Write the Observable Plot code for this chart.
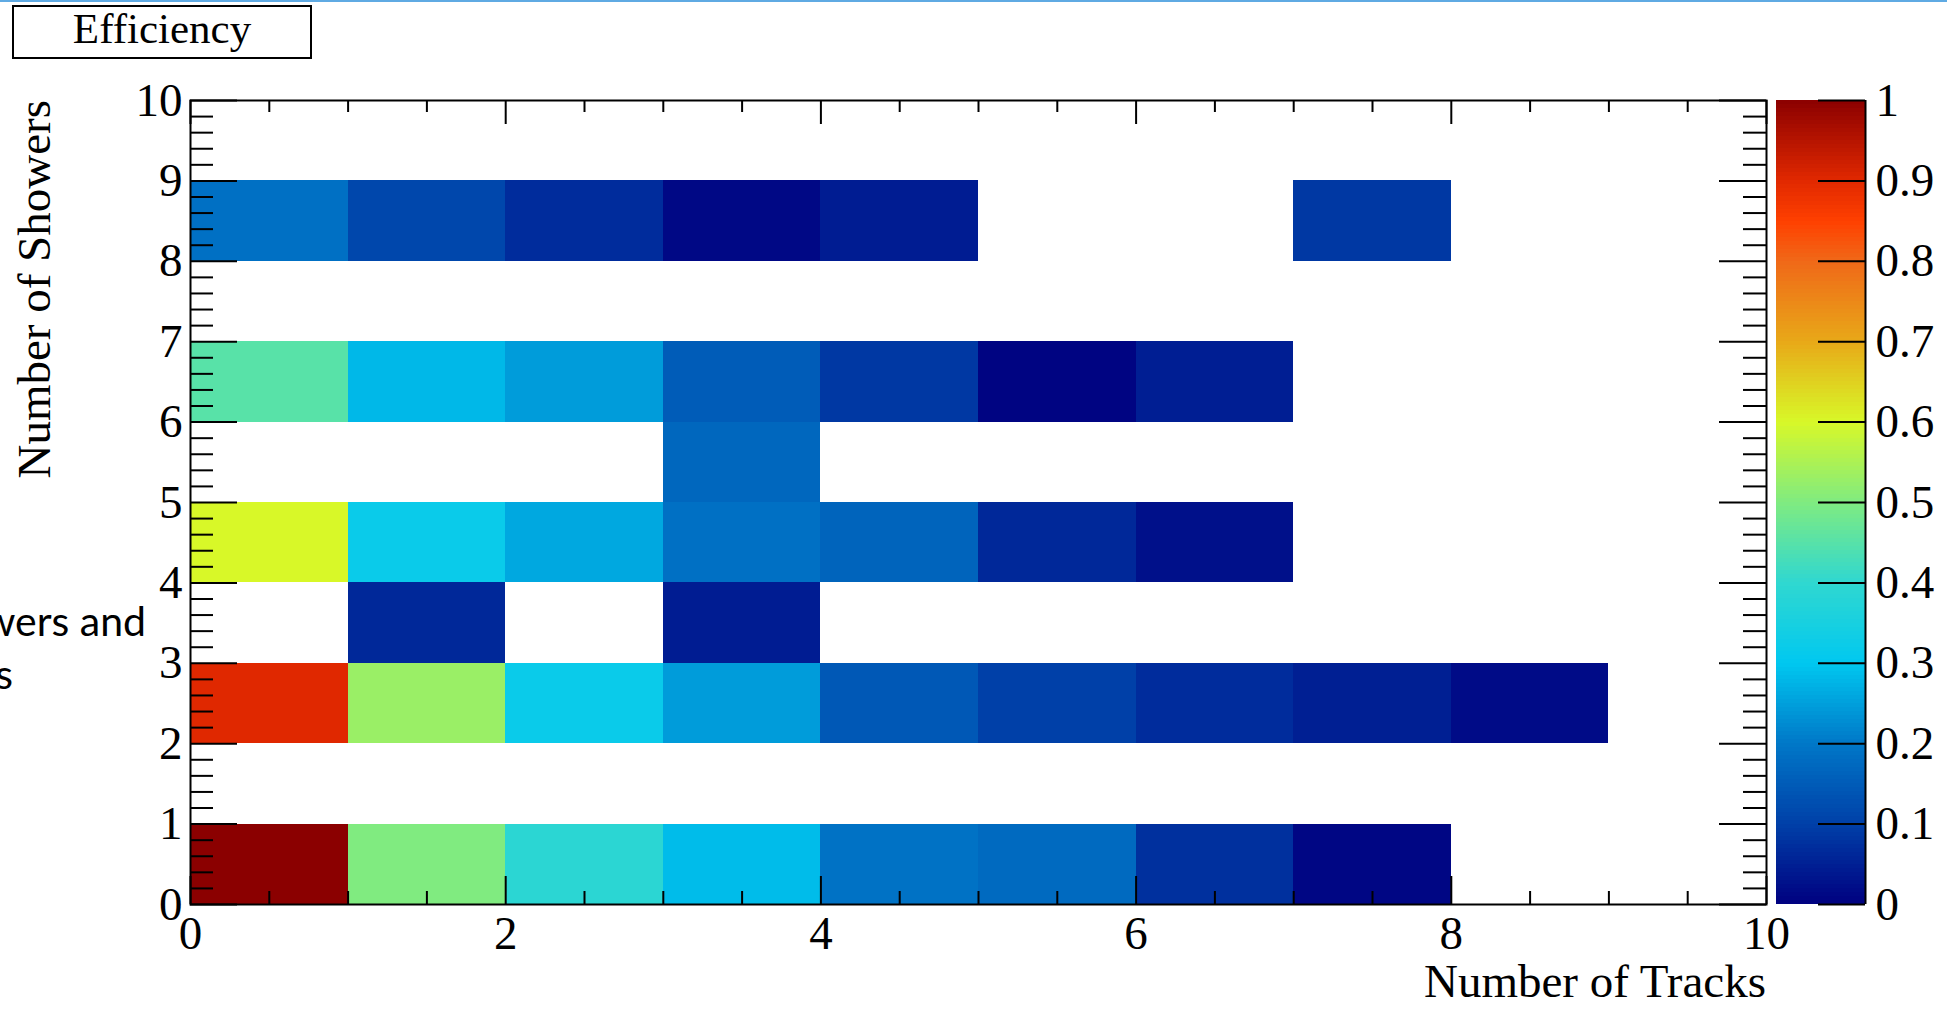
<!DOCTYPE html>
<html><head><meta charset="utf-8">
<script src="https://cdn.jsdelivr.net/npm/d3@7"></script>
<script src="https://cdn.jsdelivr.net/npm/@observablehq/plot@0.6"></script>
<style>
body{margin:0;background:#fff;}
#wrap{position:relative;width:1947px;height:1009px;overflow:hidden;background:#fff;}
#wrap > *{position:absolute;}
</style></head><body><div id="wrap"></div>
<script>
// ---- data ----
const trackBins = [0, 1, 2, 3, 4, 5, 6, 7, 8, 9];
const showerBins = [0, 2, 3, 4, 5, 6, 8];
const eff_sh0 = [1.00, 0.50, 0.39, 0.285, 0.19, 0.175, 0.075, 0.01, null, null];
const eff_sh2 = [0.90, 0.53, 0.32, 0.245, 0.143, 0.10, 0.069, 0.048, 0.017, null];
const eff_sh3 = [null, 0.063, null, 0.044, null, null, null, null, null, null];
const eff_sh4 = [0.60, 0.32, 0.26, 0.186, 0.164, 0.063, 0.025, null, null, null];
const eff_sh5 = [null, null, null, 0.17, null, null, null, null, null, null];
const eff_sh6 = [0.45, 0.28, 0.245, 0.15, 0.088, 0.006, 0.047, null, null, null];
const eff_sh8 = [0.186, 0.113, 0.069, 0.012, 0.044, null, null, 0.088, null, null];
const effRows = [eff_sh0, eff_sh2, eff_sh3, eff_sh4, eff_sh5, eff_sh6, eff_sh8];

const paletteStops  = [0, 0.1, 0.2, 0.3, 0.4, 0.5, 0.6, 0.7, 0.8, 0.85, 0.9, 1];
const paletteColors = ["#000080","#0040A8","#0078C8","#00C8F0","#30D8D0","#80EB80","#D8F828","#E8A818","#F06818","#FF4000","#E02800","#8B0000"];

const xMajorTicks = [0, 2, 4, 6, 8, 10];
const yMajorTicks = [0, 1, 2, 3, 4, 5, 6, 7, 8, 9, 10];
const cbTicks = [0, 0.1, 0.2, 0.3, 0.4, 0.5, 0.6, 0.7, 0.8, 0.9, 1];
const cbTickLabels = ["0","0.1","0.2","0.3","0.4","0.5","0.6","0.7","0.8","0.9","1"];

const titleText = "Efficiency";
const xTitle = "Number of Tracks";
const yTitle = "Number of Showers";
const bgLine1 = "wers and";
const bgLine2 = "s";

// ---- build ----
const cells = [];
showerBins.forEach((s, i) => effRows[i].forEach((v, j) => {
  if (v != null) cells.push({x1: trackBins[j], x2: trackBins[j] + 1, y1: s, y2: s + 1, eff: v});
}));
const xMinorTicks = d3.range(0, 10.001, 0.5).filter(t => !xMajorTicks.includes(t));
const yMinorTicks = d3.range(0, 10.001, 0.2).map(t => +t.toFixed(1)).filter(t => !Number.isInteger(t));

const W = 1947, H = 1009;
const fL = 190, fR = 1766, fT = 100, fB = 904;
const plotW = fR - fL, plotH = fB - fT;
const serif = "'Liberation Serif','Times New Roman',serif";
const colorOpts = {type: "linear", domain: paletteStops, range: paletteColors, clamp: true};
const tk = {stroke: "black", strokeWidth: 2};

const main = Plot.plot({
  width: W, height: H,
  marginLeft: fL, marginRight: W - fR, marginTop: fT, marginBottom: H - fB,
  style: {fontFamily: serif, fontSize: "47px", background: "transparent", color: "black", overflow: "visible"},
  x: {domain: [0, 10]},
  y: {domain: [0, 10]},
  color: colorOpts,
  marks: [
    Plot.rect(cells, {x1: "x1", x2: "x2", y1: "y1", y2: "y2", fill: "eff", shapeRendering: "crispEdges"}),
    Plot.tickX(xMajorTicks, {x: d => d, insetTop: plotH - 28, ...tk}),
    Plot.tickX(xMinorTicks, {x: d => d, insetTop: plotH - 13, ...tk}),
    Plot.tickX(xMajorTicks, {x: d => d, insetBottom: plotH - 24, ...tk}),
    Plot.tickX(xMinorTicks, {x: d => d, insetBottom: plotH - 12, ...tk}),
    Plot.tickY(yMajorTicks, {y: d => d, insetRight: plotW - 47, ...tk}),
    Plot.tickY(yMinorTicks, {y: d => d, insetRight: plotW - 23, ...tk}),
    Plot.tickY(yMajorTicks, {y: d => d, insetLeft: plotW - 47, ...tk}),
    Plot.tickY(yMinorTicks, {y: d => d, insetLeft: plotW - 23, ...tk}),
    Plot.axisX({ticks: xMajorTicks, tickSize: 0, tickPadding: 11, label: null, tickFormat: d => String(d)}),
    Plot.axisY({ticks: yMajorTicks, tickSize: 0, tickPadding: 8, label: null, tickFormat: d => String(d)}),
    Plot.frame({stroke: "black", strokeWidth: 2})
  ]
});

const cbL = 1776, cbR = 1865;
const cbBands = d3.range(0, 1, 0.005);
const cb = Plot.plot({
  width: W - 1766, height: H,
  marginLeft: cbL - 1766, marginRight: W - cbR, marginTop: fT, marginBottom: H - fB,
  style: {fontFamily: serif, fontSize: "47px", background: "transparent", color: "black", overflow: "visible"},
  x: {domain: [0, 1], axis: null},
  y: {domain: [0, 1], axis: null},
  color: colorOpts,
  marks: [
    Plot.rect(cbBands, {x1: 0, x2: 1, y1: d => d, y2: d => d + 0.0055, fill: d => d + 0.0025, shapeRendering: "crispEdges"}),
    Plot.tickY(cbTicks, {y: d => d, insetLeft: (cbR - cbL) - 47, ...tk}),
    Plot.ruleX([1], {...tk}),
    Plot.axisY({anchor: "right", ticks: cbTicks, tickSize: 0, tickPadding: 10, label: null,
      tickFormat: d => cbTickLabels[cbTicks.indexOf(d)]})
  ]
});

const wrap = document.getElementById("wrap");
main.style.left = "0px"; main.style.top = "0px";
cb.style.left = "1766px"; cb.style.top = "0px";
wrap.appendChild(main);
wrap.appendChild(cb);

// top blue line
const line = document.createElement("div");
Object.assign(line.style, {left: "0px", top: "0px", width: W + "px", height: "2px", background: "#5FAAE3"});
wrap.appendChild(line);

// title box
const tb = document.createElement("div");
Object.assign(tb.style, {left: "12px", top: "5px", width: "296px", height: "50px", border: "2px solid #000",
  fontFamily: serif, fontSize: "43px", textAlign: "center", lineHeight: "44px", background: "#fff"});
tb.textContent = titleText;
wrap.appendChild(tb);

// overlay text
const ov = d3.create("svg").attr("width", W).attr("height", H).style("left", "0px").style("top", "0px").style("pointer-events", "none");
ov.append("text").attr("x", fR).attr("y", 997).attr("text-anchor", "end")
  .style("font-family", serif).style("font-size", "47px").text(xTitle);
ov.append("text").attr("transform", `translate(50,${fT}) rotate(-90)`).attr("text-anchor", "end")
  .style("font-family", serif).style("font-size", "47px").text(yTitle);
ov.append("text").attr("x", 146).attr("y", 636).attr("text-anchor", "end")
  .style("font-family", "Lato, 'Open Sans', sans-serif").style("font-size", "41px").text(bgLine1);
ov.append("text").attr("x", 13).attr("y", 689).attr("text-anchor", "end")
  .style("font-family", "Lato, 'Open Sans', sans-serif").style("font-size", "41px").text(bgLine2);
wrap.appendChild(ov.node());
</script></body></html>
